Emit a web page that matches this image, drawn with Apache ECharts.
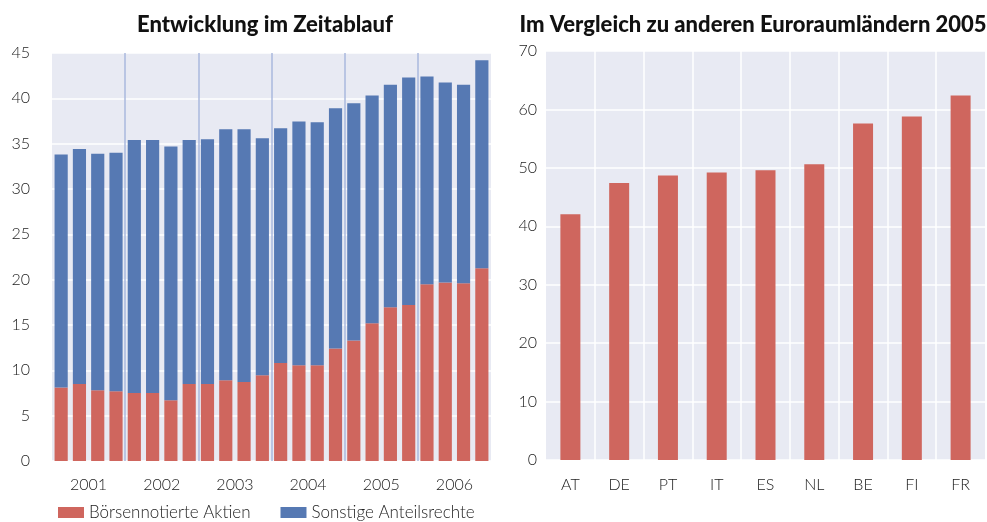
<!DOCTYPE html>
<html>
<head>
<meta charset="utf-8">
<script src="https://cdn.jsdelivr.net/npm/echarts@6/dist/echarts.min.js"></script>
<style>
  html, body { margin: 0; padding: 0; background: #fff; }
  #chart { width: 987px; height: 522px; }
</style>
</head>
<body>
<div id="chart"></div>
<script>
// Quartale 2001-2006
var quarters = ['01Q1', '01Q2', '01Q3', '01Q4', '02Q1', '02Q2', '02Q3', '02Q4',
  '03Q1', '03Q2', '03Q3', '03Q4', '04Q1', '04Q2', '04Q3', '04Q4',
  '05Q1', '05Q2', '05Q3', '05Q4', '06Q1', '06Q2', '06Q3', '06Q4']
var years = ['2001', '2002', '2003', '2004', '2005', '2006']
var boerse = [8.1, 8.5, 7.8, 7.7, 7.5, 7.5, 6.7, 8.5, 8.5, 8.9, 8.7, 9.45,
  10.8, 10.55, 10.55, 12.4, 13.3, 15.2, 16.95, 17.2, 19.5, 19.7, 19.6, 21.25]
var sonstige = [25.7, 25.9, 26.1, 26.3, 27.9, 27.9, 28.0, 26.9, 27.0, 27.7, 27.9, 26.15,
  25.9, 26.9, 26.8, 26.5, 26.15, 25.1, 24.55, 25.1, 22.9, 22.05, 21.9, 22.95]
// Vergleich 2005
var countries = ['AT', 'DE', 'PT', 'IT', 'ES', 'NL', 'BE', 'FI', 'FR']
var countryValues = [42.05, 47.4, 48.7, 49.2, 49.6, 50.6, 57.6, 58.8, 62.4]

var RED = '#cf665e'
var BLUE = '#5679b3'
var BG = '#e8eaf3'
var FONT = 'Lato'
var LABEL = { fontFamily: FONT, fontSize: 16, fontWeight: 300, color: '#222' }

var chart = echarts.init(document.getElementById('chart'))
chart.setOption({
  animation: false,
  textStyle: { fontFamily: FONT },
  title: [
    {
      text: 'Entwicklung im Zeitablauf',
      left: 260,
      top: 9,
      textAlign: 'center',
      textStyle: { fontFamily: FONT, fontSize: 22, fontWeight: 900, color: '#111' }
    },
    {
      text: 'Im Vergleich zu anderen Euroraumländern 2005',
      left: 748,
      top: 9,
      textAlign: 'center',
      textStyle: { fontFamily: FONT, fontSize: 22, fontWeight: 900, color: '#111' }
    }
  ],
  legend: {
    left: 53,
    top: 499,
    itemWidth: 26,
    itemHeight: 11,
    itemGap: 30,
    icon: 'rect',
    textStyle: { fontFamily: FONT, fontSize: 17, fontWeight: 300, color: '#222' },
    data: ['Börsennotierte Aktien', 'Sonstige Anteilsrechte']
  },
  grid: [
    { left: 52, right: 496, top: 53, bottom: 61, backgroundColor: BG, show: true, borderWidth: 0 },
    { left: 546, right: 2, top: 51, bottom: 62, backgroundColor: BG, show: true, borderWidth: 0 }
  ],
  xAxis: [
    {
      type: 'category',
      gridIndex: 0,
      data: quarters,
      show: false,
      boundaryGap: true
    },
    {
      type: 'category',
      gridIndex: 0,
      data: years,
      position: 'bottom',
      boundaryGap: true,
      axisLine: { show: false },
      axisTick: { show: false },
      axisLabel: Object.assign({ margin: 16 }, LABEL),
      splitLine: {
        show: true,
        showMinLine: false,
        showMaxLine: false,
        lineStyle: { color: '#aab8de', width: 1.5 }
      }
    },
    {
      type: 'category',
      gridIndex: 1,
      data: countries,
      boundaryGap: true,
      axisLine: { show: false },
      axisTick: { show: false },
      axisLabel: Object.assign({ margin: 17 }, LABEL),
      splitLine: {
        show: true,
        showMinLine: false,
        showMaxLine: false,
        lineStyle: { color: '#ffffff', width: 1.5 }
      }
    }
  ],
  yAxis: [
    {
      type: 'value',
      gridIndex: 0,
      min: 0,
      max: 45,
      interval: 5,
      axisLine: { show: false },
      axisTick: { show: false },
      axisLabel: Object.assign({ margin: 22 }, LABEL),
      splitLine: { lineStyle: { color: '#ffffff', width: 1.5 } }
    },
    {
      type: 'value',
      gridIndex: 1,
      min: 0,
      max: 70,
      interval: 10,
      axisLine: { show: false },
      axisTick: { show: false },
      axisLabel: Object.assign({ margin: 9 }, LABEL),
      splitLine: { lineStyle: { color: '#ffffff', width: 1.5 } }
    }
  ],
  series: [
    {
      name: 'Börsennotierte Aktien',
      type: 'bar',
      stack: 'total',
      xAxisIndex: 0,
      yAxisIndex: 0,
      barCategoryGap: '28%',
      itemStyle: { color: RED },
      data: boerse
    },
    {
      name: 'Sonstige Anteilsrechte',
      type: 'bar',
      stack: 'total',
      xAxisIndex: 0,
      yAxisIndex: 0,
      barCategoryGap: '28%',
      itemStyle: { color: BLUE },
      data: sonstige
    },
    {
      name: 'Euroraum 2005',
      type: 'bar',
      xAxisIndex: 2,
      yAxisIndex: 1,
      barWidth: 20,
      itemStyle: { color: RED },
      data: countryValues
    }
  ]
})
</script>
</body>
</html>
